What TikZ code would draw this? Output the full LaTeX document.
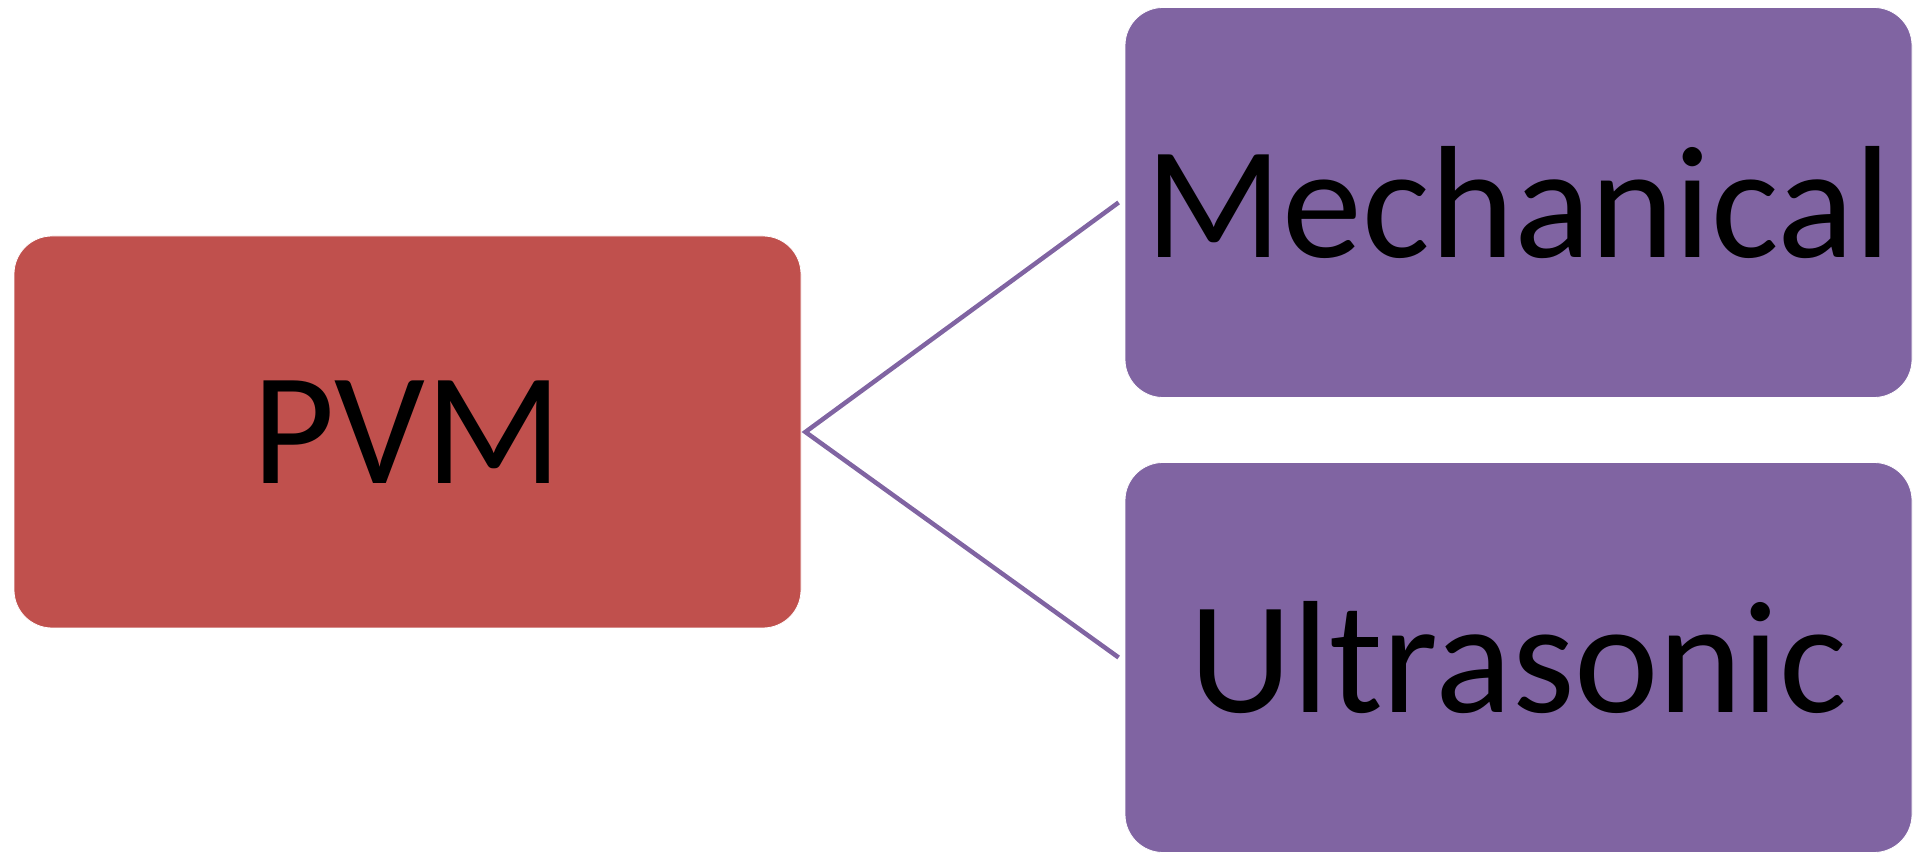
\documentclass[tikz,border=0pt]{standalone}
\usepackage{fontspec}
\setmainfont{Carlito}
\usetikzlibrary{calc}
\definecolor{boxred}{HTML}{C0504D}
\definecolor{boxpurple}{HTML}{8064A2}
\tikzset{
  card/.style={rectangle, rounded corners=38pt, draw=white, line width=0.8pt,
    minimum width=787pt, inner sep=0pt, text=black,
    font=\fontsize{160}{192}\selectfont},
  rootcard/.style={card, fill=boxred, minimum height=392pt},
  leafcard/.style={card, fill=boxpurple, minimum height=390pt},
  link/.style={draw=boxpurple, line width=4.5pt}
}
\begin{document}
\begin{tikzpicture}[x=1pt,y=1pt]
  \useasboundingbox (0,0) rectangle (1919,853);
  \node[rootcard] (pvm)  at (407.5,421)   {PVM};
  \node[leafcard] (mech) at (1518.5,650.5) {Mechanical};
  \node[leafcard] (ultra) at (1518.5,195.5) {Ultrasonic};
  \coordinate (fork) at ($(pvm.east)+(4,0)$);
  \coordinate (mechend) at ($(mech.west)+(-6,0)$);
  \coordinate (ultraend) at ($(ultra.west)+(-6,0)$);
  \draw[link] (mechend) -- (fork) -- (ultraend);
\end{tikzpicture}
\end{document}
